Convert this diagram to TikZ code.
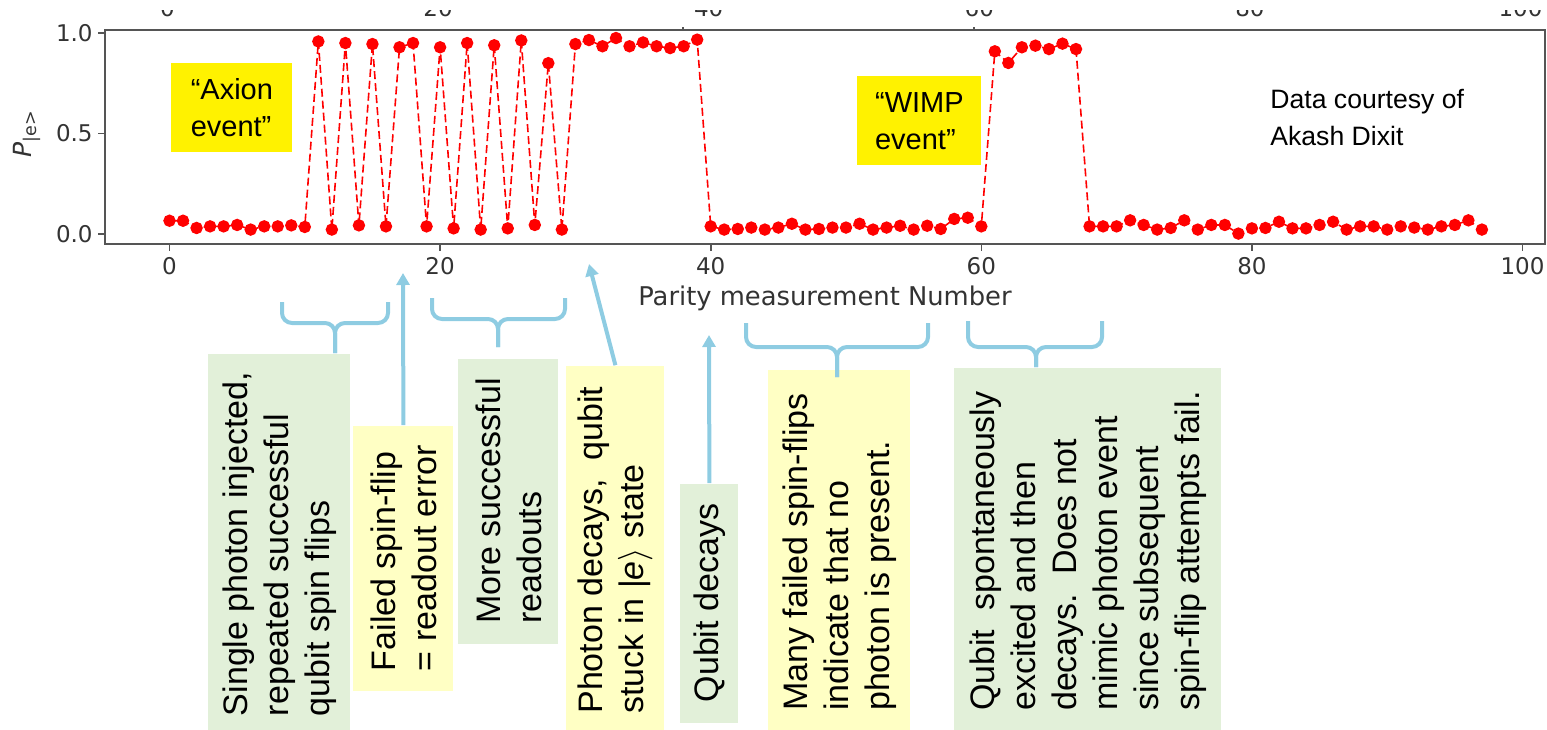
\documentclass[tikz,border=0pt]{standalone}
\usepackage{fontspec}
\setmainfont{Liberation Sans}
\newfontfamily\plotfont{DejaVu Sans}
\usetikzlibrary{arrows.meta}
\definecolor{notegreen}{RGB}{226,240,217}
\definecolor{noteyellow}{RGB}{255,255,196}
\definecolor{bracketblue}{RGB}{142,204,226}
\definecolor{axisgray}{RGB}{85,85,85}

\begin{document}
\begin{tikzpicture}[
  x=0.5pt, y=-0.5pt,
  note/.style = {
    rotate=90,
    anchor=north west,
    fill=#1,
    align=left,
    inner sep=0pt,
    font=\fontsize{17}{20.5}\selectfont
  },
  event/.style = {
    fill=yellow,
    anchor=north west,
    align=left,
    inner sep=0pt,
    minimum height=44.5pt,
    font=\fontsize{14.5}{18.5}\selectfont
  },
  brace/.style = {bracketblue, line width=2pt, rounded corners=5pt},
  arr/.style = {bracketblue, line width=2pt, -{Triangle[length=6pt,width=6.5pt]}},
  axis/.style = {axisgray, line width=0.8pt},
  ticklab/.style = {inner sep=0pt, text=black!80, font=\plotfont\fontsize{11.5}{13}\selectfont},
  ]
  \useasboundingbox (0,0) rectangle (1547,729);
  \clip (0,0) rectangle (1547,729);

  % top labels of the plot above, mostly hidden
  \foreach \lab [count=\k from 0] in {0,20,40,60,80,100}
    \node[ticklab, anchor=south] at ({167.5+270.6*\k},17) {\lab};
  \fill[white] (0,0) rectangle (1547,10);

  % frame and ticks
  \draw[axis] (105,30) rectangle (1545,244);
  \draw[axis] (683,30) -- ++(0,-3);
  \draw[axis] (974,30) -- ++(0,-3);
  \foreach \lab [count=\k from 0] in {0,20,40,60,80,100} {
    \draw[axis] ({169.5+270.6*\k},244) -- ++(0,7);
    \node[ticklab] at ({169.5+270.6*\k},266) {\lab};
  }
  \foreach \val/\ypos in {0.0/234, 0.5/133.5, 1.0/33} {
    \draw[axis] (105,\ypos) -- ++(-7,0);
    \node[ticklab, anchor=east] at (93,\ypos) {\val};
  }
  \node[ticklab, rotate=90, font=\plotfont\fontsize{12.5}{14}\selectfont]
    (ylab) at (27,134) {\textit{P}\textsubscript{|e>}};
  \node[ticklab, font=\plotfont\fontsize{12.9}{14}\selectfont]
    (xlab) at (825,298) {Parity measurement Number};

  % measured parity
  \begin{scope}[shift={(169.5,234)}, x=6.765pt, y=100.5pt]
    \draw[red, line width=0.8pt, dash pattern=on 4pt off 2pt,
      mark=*, mark size=2.7pt, mark options={solid, fill=red, draw=red}]
      plot coordinates {
        (0,.066) (1,.066) (2,.030) (3,.038) (4,.038) (5,.045) (6,.022) (7,.038)
        (8,.038) (9,.043) (10,.035) (11,.958) (12,.022) (13,.950) (14,.043)
        (15,.945) (16,.038) (17,.929) (18,.950) (19,.038) (20,.929) (21,.028)
        (22,.950) (23,.022) (24,.939) (25,.028) (26,.963) (27,.045) (28,.850)
        (29,.022) (30,.945) (31,.965) (32,.934) (33,.975) (34,.934) (35,.953)
        (36,.934) (37,.925) (38,.934) (39,.967) (40,.038) (41,.022) (42,.025)
        (43,.032) (44,.022) (45,.032) (46,.051) (47,.022) (48,.025) (49,.032)
        (50,.032) (51,.051) (52,.022) (53,.032) (54,.041) (55,.022) (56,.041)
        (57,.025) (58,.075) (59,.081) (60,.038) (61,.909) (62,.851) (63,.929)
        (64,.937) (65,.920) (66,.947) (67,.920) (68,.038) (69,.038) (70,.038)
        (71,.068) (72,.045) (73,.022) (74,.030) (75,.068) (76,.022) (77,.045)
        (78,.045) (79,.002) (80,.028) (81,.030) (82,.061) (83,.028) (84,.028)
        (85,.045) (86,.061) (87,.022) (88,.038) (89,.038) (90,.022) (91,.038)
        (92,.032) (93,.022) (94,.038) (95,.045) (96,.068) (97,.022)
      };
  \end{scope}

  \node[event, minimum width=60.5pt] (axion) at (171,63) {“Axion\\event”};
  \node[event, minimum width=62pt] (wimp) at (857,76) {“WIMP\\event”};
  \node[anchor=west, align=left, inner sep=0pt, font=\fontsize{13.3}{18.5}\selectfont]
    (credit) at (1270,118) {Data courtesy of\\Akash Dixit};

  % notes below the axis
  \node[note=notegreen, minimum width=190.5pt, minimum height=71pt]
    (single) at (208,735) {Single photon injected,\\repeated successful\\qubit spin flips};
  \node[note=noteyellow, minimum width=132.5pt, minimum height=50pt]
    (failed) at (353,691) {Failed spin-flip\\= readout error};
  \node[note=notegreen, minimum width=142.5pt, minimum height=50pt]
    (more) at (458,644) {More successful\\readouts};
  \node[note=noteyellow, minimum width=184.5pt, minimum height=49pt]
    (photon) at (566,735) {Photon decays,\ \ qubit\\stuck in |\textit{e}$\rangle$ state};
  \node[note=notegreen, minimum width=119.5pt, minimum height=29pt]
    (qdecay) at (680,723) {Qubit decays};
  \node[note=noteyellow, minimum width=182.5pt, minimum height=71pt]
    (many) at (768,735) {Many failed spin-flips\\indicate that no\\photon is present.};
  \node[note=notegreen, minimum width=183.5pt, minimum height=133.5pt]
    (spont) at (954,735) {Qubit\ \ spontaneously\\excited and then\\decays.\ \ Does not\\mimic photon event\\since subsequent\\spin-flip attempts fail.};

  % braces and arrows
  \coordinate (failedtip) at (403,273);
  \coordinate (photontip) at (589,264);
  \coordinate (qdecaytip) at (709,335);
  \draw[brace] (282,302) |- (335,323) -- (335,0 |- single.east);
  \draw[brace] (388,302) |- (335,323) -- (335,0 |- single.east);
  \draw[brace] (432,298) |- (498,319) -- (498,347);
  \draw[brace] (565,298) |- (498,319) -- (498,347);
  \draw[brace] (746,323) |- (837,347) -- (837,377);
  \draw[brace] (928,323) |- (837,347) -- (837,377);
  \draw[brace] (968,321) |- (1036,347) -- (1036,0 |- spont.east);
  \draw[brace] (1102,321) |- (1036,347) -- (1036,0 |- spont.east);
  \draw[arr] (failed.east) -- (failedtip);
  \draw[arr] (photon.east) -- (photontip);
  \draw[arr] (qdecay.east) -- (qdecaytip);
\end{tikzpicture}
\end{document}
